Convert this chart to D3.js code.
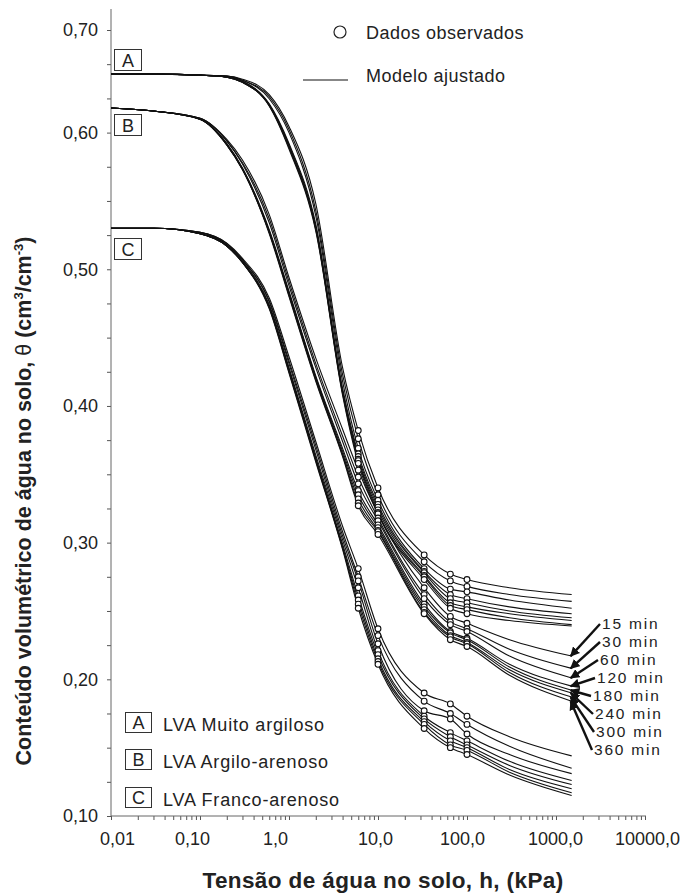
<!DOCTYPE html>
<html>
<head>
<meta charset="utf-8">
<script src="https://cdn.jsdelivr.net/npm/d3@7"></script>
<style>
  body { margin: 0; background: #fff; }
  svg text { font-family: "Liberation Sans", Arial, sans-serif; fill: #222; }
</style>
</head>
<body>
<svg id="chart" width="682" height="895"></svg>
<script>
// suction values (kPa) where the fitted curves were read
const hGrid = [0.01, 0.03, 0.1, 0.2, 0.3, 0.6, 1, 2, 4, 6, 10, 33, 65, 100, 300, 1500];
const times = ["15 min", "30 min", "60 min", "120 min", "180 min", "240 min", "300 min", "360 min"];

// fitted model, one row per time (15 ... 360 min)
const curvesA = [
  [.657, .657, .656, .655, .652, .637, .606, .548, .428, .382, .340, .291, .277, .273, .267, .262],
  [.657, .657, .656, .655, .651, .635, .603, .543, .423, .376, .335, .286, .272, .268, .262, .257],
  [.657, .657, .656, .655, .651, .633, .600, .539, .418, .369, .331, .281, .266, .264, .258, .252],
  [.657, .657, .656, .654, .650, .628, .592, .533, .413, .365, .328, .279, .262, .259, .253, .248],
  [.657, .657, .656, .654, .650, .627, .591, .531, .411, .363, .326, .278, .259, .256, .250, .245],
  [.657, .657, .656, .654, .649, .627, .590, .530, .410, .361, .324, .276, .256, .253, .248, .243],
  [.657, .657, .656, .654, .649, .626, .589, .529, .409, .360, .322, .275, .254, .251, .245, .240],
  [.657, .657, .656, .654, .649, .626, .588, .528, .408, .358, .321, .273, .252, .248, .243, .239]
];
const curvesB = [
  [.624, .621, .614, .595, .580, .540, .494, .435, .383, .353, .321, .267, .246, .241, .229, .217],
  [.624, .621, .614, .594, .578, .537, .491, .431, .378, .348, .318, .262, .242, .237, .222, .208],
  [.624, .621, .614, .594, .577, .534, .488, .428, .374, .343, .316, .259, .240, .235, .217, .201],
  [.624, .621, .613, .592, .574, .529, .484, .422, .369, .338, .313, .255, .235, .230, .211, .195],
  [.624, .621, .613, .592, .574, .528, .483, .421, .367, .335, .311, .253, .234, .229, .209, .192],
  [.624, .621, .613, .591, .573, .527, .482, .420, .365, .332, .309, .251, .232, .227, .207, .190],
  [.624, .621, .613, .591, .573, .527, .481, .419, .364, .329, .308, .249, .231, .226, .205, .187],
  [.624, .621, .613, .591, .573, .526, .480, .418, .363, .327, .306, .248, .229, .224, .203, .184]
];
const curvesC = [
  [.530, .530, .527, .519, .508, .479, .436, .374, .312, .281, .237, .190, .182, .173, .158, .144],
  [.530, .530, .527, .519, .507, .477, .433, .371, .308, .275, .232, .184, .175, .167, .151, .135],
  [.530, .530, .527, .518, .507, .476, .431, .368, .305, .272, .226, .177, .171, .160, .145, .131],
  [.530, .530, .526, .518, .506, .474, .428, .364, .302, .267, .221, .173, .161, .155, .140, .126],
  [.530, .530, .526, .517, .505, .473, .427, .362, .299, .261, .218, .171, .158, .152, .137, .123],
  [.530, .530, .526, .517, .505, .472, .426, .361, .297, .258, .215, .169, .155, .150, .134, .120],
  [.530, .530, .526, .517, .505, .472, .425, .360, .296, .255, .213, .167, .152, .148, .132, .117],
  [.530, .530, .526, .517, .505, .471, .424, .359, .295, .252, .211, .164, .150, .145, .130, .115]
];

// observed points
const hObs = [6, 10, 33, 65, 100];
const obsA = [
  [.382, .340, .291, .277, .273],
  [.376, .335, .286, .272, .268],
  [.369, .331, .281, .266, .264],
  [.365, .328, .279, .262, .259],
  [.363, .326, .278, .259, .256],
  [.361, .324, .276, .256, .253],
  [.360, .322, .275, .254, .251],
  [.358, .321, .273, .252, .248]
];
const obsB = [
  [.353, .321, .267, .246, .241],
  [.348, .318, .262, .242, .237],
  [.343, .316, .259, .240, .235],
  [.338, .313, .255, .235, .230],
  [.335, .311, .253, .234, .229],
  [.332, .309, .251, .232, .227],
  [.329, .308, .249, .231, .226],
  [.327, .306, .248, .229, .224]
];
const obsC = [
  [.281, .237, .190, .182, .173],
  [.275, .232, .184, .175, .167],
  [.272, .226, .177, .171, .160],
  [.267, .221, .173, .161, .155],
  [.261, .218, .171, .158, .152],
  [.258, .215, .169, .155, .150],
  [.255, .213, .167, .152, .148],
  [.252, .211, .164, .150, .145]
];

const soils = ["A", "B", "C"];
const soilNames = ["LVA Muito argiloso", "LVA Argilo-arenoso", "LVA Franco-arenoso"];
const xLabels = ["0,01", "0,10", "1,0", "10,0", "100,0", "1000,0", "10000,0"];
const yLabels = [0.1, 0.2, 0.3, 0.4, 0.5, 0.6, 0.7];

const svg = d3.select("#chart");

// scales (the upper segment of the y axis is compressed in the original)
const x = d3.scaleLog().domain([0.01, 10000]).range([111, 645]);
const y = d3.scaleLinear().domain([0.1, 0.6, 0.7]).range([816, 132.6, 30]);

// axes
const xTicks = [];
for (let e = -2; e <= 3; e++) for (let k = 1; k <= 9; k++) xTicks.push(k * Math.pow(10, e));
xTicks.push(10000);
const majorX = [0.01, 0.1, 1, 10, 100, 1000, 10000];
// the printed labels sit a little off their ticks
const xLabelShift = [6, -8, -14, -3, -5, -1, 2];

const yTicks = d3.range(0.1, 0.6001, 0.025).concat([0.6333, 0.6667, 0.7]);

const gx = svg.append("g")
  .attr("transform", "translate(0,816)")
  .call(d3.axisBottom(x).tickValues(xTicks).tickSize(4).tickSizeOuter(0).tickPadding(12)
    .tickFormat(d => {
      const i = majorX.findIndex(m => Math.abs(m - d) / m < 1e-6);
      return i >= 0 ? xLabels[i] : "";
    }));
gx.selectAll(".tick text").attr("dx", d => {
  const i = majorX.findIndex(m => Math.abs(m - d) / m < 1e-6);
  return i >= 0 ? xLabelShift[i] : 0;
});

const gy = svg.append("g")
  .attr("transform", "translate(111,0)")
  .call(d3.axisLeft(y).tickValues(yTicks).tickSize(4).tickSizeOuter(0).tickPadding(9)
    .tickFormat(d => {
      const hit = yLabels.find(v => Math.abs(v - d) < 1e-6);
      return hit !== undefined ? d3.format(".2f")(hit).replace(".", ",") : "";
    }));

[gx, gy].forEach(g => {
  g.select(".domain").remove();
  g.selectAll(".tick line").attr("stroke", "#555");
  g.selectAll(".tick text").style("font-size", "18px").attr("fill", "#222");
});
svg.append("line").attr("x1", 111).attr("x2", 111).attr("y1", 9).attr("y2", 816).attr("stroke", "#666");
svg.append("line").attr("x1", 111).attr("x2", 646).attr("y1", 816).attr("y2", 816).attr("stroke", "#666");

// curves
const line = d3.line()
  .x(d => x(d[0]))
  .y(d => y(d[1]))
  .curve(d3.curveMonotoneX);

const groups = [curvesA, curvesB, curvesC];
const obsGroups = [obsA, obsB, obsC];

groups.forEach(curves => {
  svg.append("g").selectAll("path")
    .data(curves)
    .enter().append("path")
    .attr("d", c => line(hGrid.map((h, i) => [h, c[i]])))
    .attr("fill", "none")
    .attr("stroke", "#111")
    .attr("stroke-width", 1.1);
});

obsGroups.forEach(obs => {
  const pts = [];
  obs.forEach(row => row.forEach((t, i) => pts.push([hObs[i], t])));
  svg.append("g").selectAll("circle")
    .data(pts)
    .enter().append("circle")
    .attr("cx", d => x(d[0]))
    .attr("cy", d => y(d[1]))
    .attr("r", 2.9)
    .attr("fill", "#fff")
    .attr("stroke", "#111")
    .attr("stroke-width", 1.1);
});

// boxed letters next to the curves
const boxY = [49, 114, 238];
soils.forEach((s, i) => {
  svg.append("rect").attr("x", 114.5).attr("y", boxY[i] + 0.5).attr("width", 27).attr("height", 21)
    .attr("fill", "#fff").attr("stroke", "#333");
  svg.append("text").attr("x", 128).attr("y", boxY[i] + 18)
    .attr("text-anchor", "middle").style("font-size", "18px").text(s);
});

// soil legend bottom left
const legY = [712, 749, 787];
soils.forEach((s, i) => {
  svg.append("rect").attr("x", 125.5).attr("y", legY[i] + 0.5).attr("width", 26).attr("height", 20)
    .attr("fill", "#fff").attr("stroke", "#333");
  svg.append("text").attr("x", 138.5).attr("y", legY[i] + 17)
    .attr("text-anchor", "middle").style("font-size", "18px").text(s);
  svg.append("text").attr("x", 163).attr("y", legY[i] + 19)
    .style("font-size", "18px").style("letter-spacing", "0.8px").text(soilNames[i]);
});

// top legend
svg.append("circle").attr("cx", 340).attr("cy", 32).attr("r", 6)
  .attr("fill", "#fff").attr("stroke", "#222").attr("stroke-width", 1.2);
svg.append("text").attr("x", 366).attr("y", 39).style("font-size", "18px")
  .style("letter-spacing", "0.5px").text("Dados observados");
svg.append("line").attr("x1", 303).attr("x2", 348).attr("y1", 80).attr("y2", 80)
  .attr("stroke", "#111").attr("stroke-width", 1.2);
svg.append("text").attr("x", 366).attr("y", 82).style("font-size", "18px")
  .style("letter-spacing", "0.5px").text("Modelo ajustado");

// time labels with arrows to the ends of curves B
svg.append("defs").append("marker")
  .attr("id", "head").attr("viewBox", "0 0 10 10").attr("refX", 9).attr("refY", 5)
  .attr("markerWidth", 4).attr("markerHeight", 4).attr("markerUnits", "strokeWidth")
  .attr("orient", "auto")
  .append("path").attr("d", "M0,0L10,5L0,10z").attr("fill", "#111");

const labelX = [602, 602, 600, 597, 593, 595, 596, 594];
const hEnd = hGrid[hGrid.length - 1];
times.forEach((t, i) => {
  const base = 629 + i * 18;
  const tipY = y(curvesB[i][curvesB[i].length - 1]);
  svg.append("line")
    .attr("x1", labelX[i] - 2).attr("y1", base - 5)
    .attr("x2", x(hEnd) - 1).attr("y2", tipY)
    .attr("stroke", "#111").attr("stroke-width", 2.4)
    .attr("marker-end", "url(#head)");
  svg.append("text").attr("x", labelX[i]).attr("y", base)
    .style("font-size", "15.5px").style("letter-spacing", "1.8px").text(t);
});

// axis titles
svg.append("text")
  .attr("x", 383).attr("y", 888)
  .attr("text-anchor", "middle")
  .style("font-size", "22.5px").style("font-weight", "bold").style("letter-spacing", "0.4px")
  .text("Tensão de água no solo, h, (kPa)");

const yt = svg.append("text")
  .attr("transform", "translate(31,501) rotate(-90)")
  .attr("text-anchor", "middle")
  .style("font-size", "21.5px").style("font-weight", "bold");
yt.append("tspan").text("Conteúdo volumétrico de água no solo, ");
yt.append("tspan").style("font-weight", "normal").text("θ");
yt.append("tspan").text(" (cm");
yt.append("tspan").attr("dy", -8).style("font-size", "13px").text("3");
yt.append("tspan").attr("dy", 8).text("/cm");
yt.append("tspan").attr("dy", -8).style("font-size", "13px").text("-3");
yt.append("tspan").attr("dy", 8).text(")");
</script>
</body>
</html>
